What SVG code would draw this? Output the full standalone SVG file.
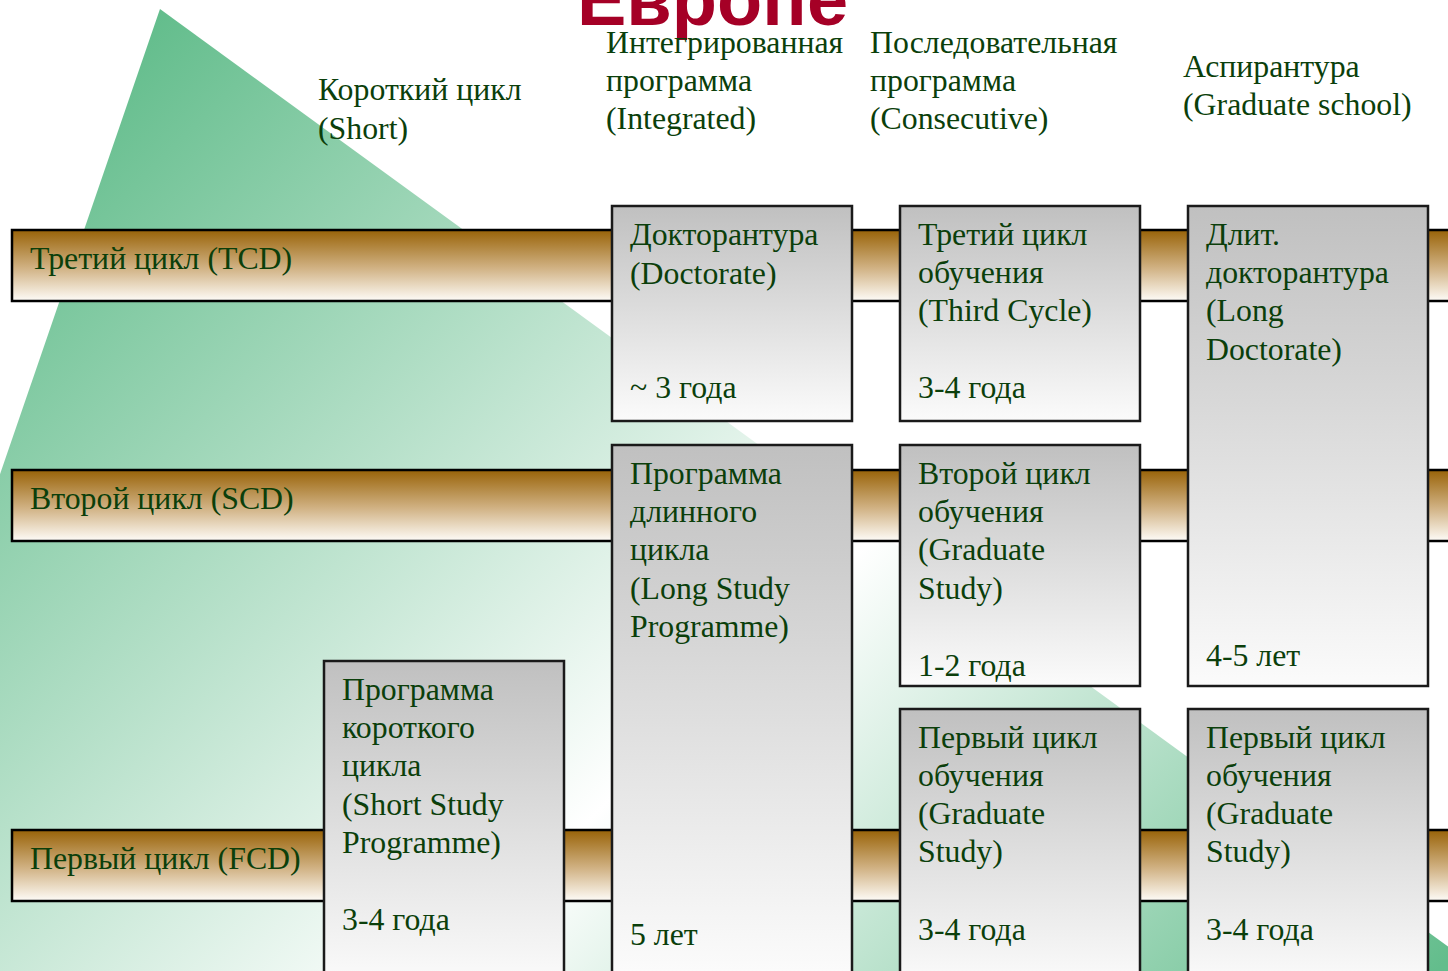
<svg xmlns="http://www.w3.org/2000/svg" width="1448" height="971" viewBox="0 0 1448 971">
<defs>
<linearGradient id="tri" gradientUnits="userSpaceOnUse" x1="85" y1="85" x2="1204" y2="1204">
<stop offset="0" stop-color="#63bd8c"/>
<stop offset="0.554" stop-color="#ffffff"/>
<stop offset="1" stop-color="#63bd8c"/>
</linearGradient>
<linearGradient id="band" x1="0" y1="0" x2="0" y2="1">
<stop offset="0" stop-color="#996308"/>
<stop offset="0.55" stop-color="#d2b487"/>
<stop offset="1" stop-color="#fefcf8"/>
</linearGradient>
<linearGradient id="box" x1="0" y1="0" x2="0" y2="1">
<stop offset="0" stop-color="#c0c0c0"/>
<stop offset="1" stop-color="#fbfbfb"/>
</linearGradient>
<linearGradient id="boxTall" gradientUnits="userSpaceOnUse" x1="0" y1="445" x2="0" y2="971">
<stop offset="0" stop-color="#c0c0c0"/>
<stop offset="1" stop-color="#fbfbfb"/>
</linearGradient>
</defs>
<style>
text{font-family:"Liberation Serif","Times New Roman",serif;font-size:31.8px;fill:#0b3f0b}
.band{fill:url(#band);stroke:#000;stroke-width:2.5}
.box{fill:url(#box);stroke:#1a1a1a;stroke-width:2.5}
.title{font-family:"Liberation Sans",Arial,sans-serif;font-weight:bold;font-size:74px;fill:#a50026}
</style>
<rect width="1448" height="971" fill="#ffffff"/>
<polygon points="160,9 -2,480 -2,973 1450,973 1450,948" fill="url(#tri)"/>
<text class="title" x="577" y="25">Европе</text>
<g id="headers">
<text x="318" y="100">Короткий цикл</text>
<text x="318" y="139">(Short)</text>
<text x="606" y="53">Интегрированная</text>
<text x="606" y="91">программа</text>
<text x="606" y="129">(Integrated)</text>
<text x="870" y="53">Последовательная</text>
<text x="870" y="91">программа</text>
<text x="870" y="129">(Consecutive)</text>
<text x="1183" y="77">Аспирантура</text>
<text x="1183" y="115">(Graduate school)</text>
</g>
<g id="band-tcd">
<rect class="band" x="12" y="230" width="1450" height="71"/>
<text x="30" y="269">Третий цикл (TCD)</text>
</g>
<g id="band-scd">
<rect class="band" x="12" y="470" width="1450" height="71"/>
<text x="30" y="509">Второй цикл (SCD)</text>
</g>
<g id="band-fcd">
<rect class="band" x="12" y="830" width="1450" height="71"/>
<text x="30" y="869">Первый цикл (FCD)</text>
</g>
<g id="connectors"/>
<g id="box-doctorate">
<rect class="box" x="612" y="206" width="240" height="215"/>
<text x="630" y="245">Докторантура</text>
<text x="630" y="284">(Doctorate)</text>
<text x="630" y="398">~ 3 года</text>
</g>
<g id="box-third-cycle">
<rect class="box" x="900" y="206" width="240" height="215"/>
<text x="918" y="245">Третий цикл</text>
<text x="918" y="283">обучения</text>
<text x="918" y="321">(Third Cycle)</text>
<text x="918" y="398">3-4 года</text>
</g>
<g id="box-long-doctorate">
<rect class="box" x="1188" y="206" width="240" height="480"/>
<text x="1206" y="245">Длит.</text>
<text x="1206" y="283">докторантура</text>
<text x="1206" y="321">(Long</text>
<text x="1206" y="360">Doctorate)</text>
<text x="1206" y="666">4-5 лет</text>
</g>
<g id="box-long-study">
<rect x="612" y="445" width="240" height="540" fill="url(#boxTall)" stroke="#1a1a1a" stroke-width="2.5"/>
<text x="630" y="484">Программа</text>
<text x="630" y="522">длинного</text>
<text x="630" y="560">цикла</text>
<text x="630" y="599">(Long Study</text>
<text x="630" y="637">Programme)</text>
<text x="630" y="945">5 лет</text>
</g>
<g id="box-second-cycle">
<rect class="box" x="900" y="445" width="240" height="241"/>
<text x="918" y="484">Второй цикл</text>
<text x="918" y="522">обучения</text>
<text x="918" y="560">(Graduate</text>
<text x="918" y="599">Study)</text>
<text x="918" y="676">1-2 года</text>
</g>
<g id="box-first-cycle-consecutive">
<rect class="box" x="900" y="709" width="240" height="276"/>
<text x="918" y="748">Первый цикл</text>
<text x="918" y="786">обучения</text>
<text x="918" y="824">(Graduate</text>
<text x="918" y="862">Study)</text>
<text x="918" y="940">3-4 года</text>
</g>
<g id="box-first-cycle-graduate">
<rect class="box" x="1188" y="709" width="240" height="276"/>
<text x="1206" y="748">Первый цикл</text>
<text x="1206" y="786">обучения</text>
<text x="1206" y="824">(Graduate</text>
<text x="1206" y="862">Study)</text>
<text x="1206" y="940">3-4 года</text>
</g>
<g id="box-short-study">
<rect class="box" x="324" y="661" width="240" height="324"/>
<text x="342" y="700">Программа</text>
<text x="342" y="738">короткого</text>
<text x="342" y="776">цикла</text>
<text x="342" y="815">(Short Study</text>
<text x="342" y="853">Programme)</text>
<text x="342" y="930">3-4 года</text>
</g>
</svg>
